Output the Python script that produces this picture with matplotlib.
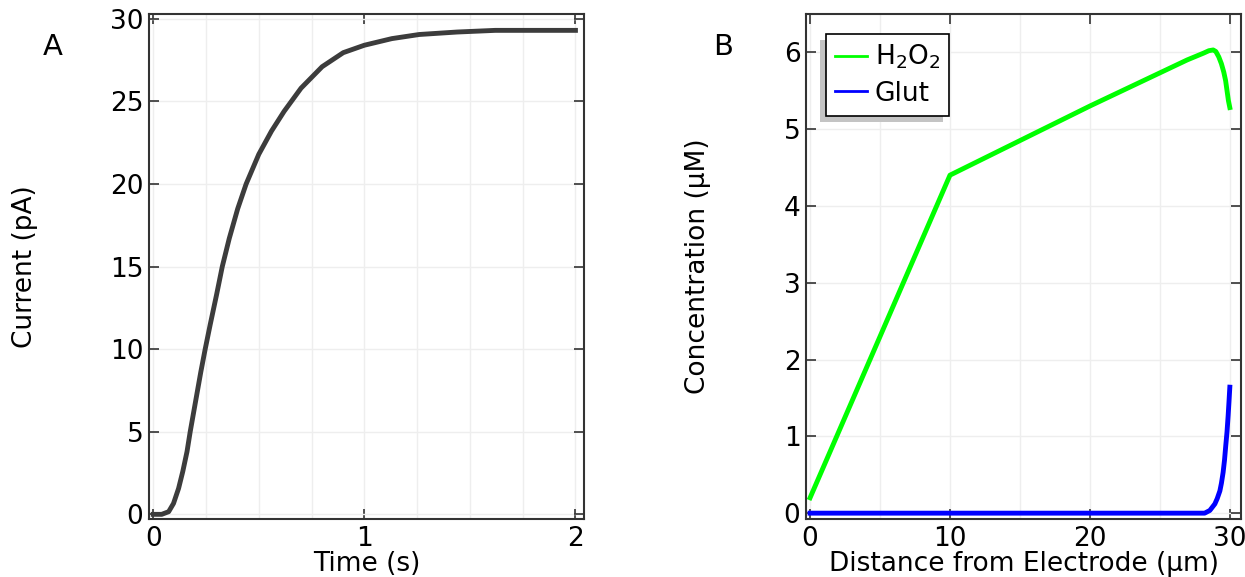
import matplotlib
matplotlib.use("Agg")
import matplotlib.pyplot as plt
from matplotlib.patches import Rectangle
from matplotlib.transforms import IdentityTransform
import numpy as np

# panel A: current vs time
time_s = [0, 0.04, 0.073, 0.096, 0.12, 0.14, 0.16, 0.175, 0.2, 0.225, 0.246,
          0.27, 0.3, 0.327, 0.36, 0.4, 0.44, 0.5, 0.56, 0.62, 0.7, 0.8, 0.9,
          1.0, 1.13, 1.26, 1.44, 1.62, 2.0]
current_pA = [0, 0, 0.16, 0.66, 1.57, 2.6, 3.8, 5.0, 6.8, 8.6, 10.0,
              11.5, 13.3, 15.0, 16.7, 18.5, 20.0, 21.8, 23.2, 24.4, 25.8, 27.1, 27.95,
              28.4, 28.8, 29.05, 29.2, 29.3, 29.3]

# panel B: concentration profiles
dist_h2o2 = [0, 10, 20, 26.95, 28.14, 28.5, 28.81, 29.0, 29.21, 29.4, 29.57,
             29.7, 29.8, 29.9, 30]
h2o2_uM = [0.2, 4.4, 5.3, 5.9, 5.99, 6.02, 6.03, 6.01, 5.94, 5.85, 5.74,
           5.63, 5.5, 5.37, 5.28]
dist_glut = [0, 28.2, 28.57, 28.93, 29.1, 29.29, 29.4, 29.52, 29.62, 29.71,
             29.8, 29.88, 29.94, 30]
glut_uM = [0, 0, 0.035, 0.12, 0.19, 0.29, 0.39, 0.53, 0.69, 0.88,
           1.06, 1.27, 1.45, 1.64]

plt.rcParams['font.family'] = ['DejaVu Sans']
FS = 19

fig = plt.figure(figsize=(12.45, 5.77), dpi=100)
axA = fig.add_axes([0.1197, 0.1, 0.3493, 0.876])
axB = fig.add_axes([0.6474, 0.1, 0.3494, 0.876])


def style(ax):
    for s in ax.spines.values():
        s.set_color('#333333')
        s.set_linewidth(1.5)
    ax.tick_params(direction='in', length=7, width=1.2, top=True, right=True,
                   labelsize=FS, color='#333333', pad=4)
    ax.tick_params(axis='x', pad=5)
    ax.tick_params(which='minor', length=0)
    ax.grid(True, which='both', color='#eeeeee', linewidth=1)
    ax.set_axisbelow(True)


axA.plot(time_s, current_pA, color='#3c3c3c', lw=3.5)
axA.set_xlim(-0.02, 2.04)
axA.set_ylim(-0.3, 30.3)
axA.set_xticks([0, 1, 2])
axA.set_xticks(np.arange(0, 2.01, 0.25), minor=True)
axA.set_yticks(np.arange(0, 31, 5))
style(axA)
axA.set_xlabel('Time (s)', fontsize=FS, labelpad=-1)
axA.set_ylabel('Current (pA)', fontsize=FS, labelpad=52)

axB.plot(dist_h2o2, h2o2_uM, color='#00ff00', lw=3.5, label='H$_2$O$_2$')
axB.plot(dist_glut, glut_uM, color='#0000ff', lw=3.5, label='Glut')
axB.set_xlim(-0.29, 30.8)
axB.set_ylim(-0.08, 6.5)
axB.set_xticks([0, 10, 20, 30])
axB.set_xticks(np.arange(0, 31, 5), minor=True)
axB.set_yticks(range(0, 7))
style(axB)
axB.set_xlabel('Distance from Electrode (µm)', fontsize=FS, labelpad=-1)
axB.set_ylabel('Concentration (µM)', fontsize=FS, labelpad=52)
leg = axB.legend(loc='upper left', fontsize=FS, frameon=True, fancybox=False,
                 shadow=False, edgecolor='black', framealpha=1,
                 handlelength=1.2, handletextpad=0.3, borderpad=0.35,
                 borderaxespad=0.75, labelspacing=0.35)
leg.get_frame().set_linewidth(1.2)
for ln in leg.get_lines():
    ln.set_linewidth(2)

# shadow offset to the lower left, like the original
fig.canvas.draw()
bb = leg.get_window_extent()
shadow = Rectangle((bb.x0 - 6, bb.y0 - 6), bb.width, bb.height,
                   transform=IdentityTransform(), facecolor='#c4c4c4',
                   edgecolor='none', zorder=4.9, clip_on=False)
axB.add_artist(shadow)

fig.text(0.034, 0.905, 'A', fontsize=FS + 2)
fig.text(0.573, 0.905, 'B', fontsize=FS + 2)

fig.savefig('out.png', dpi=100)
